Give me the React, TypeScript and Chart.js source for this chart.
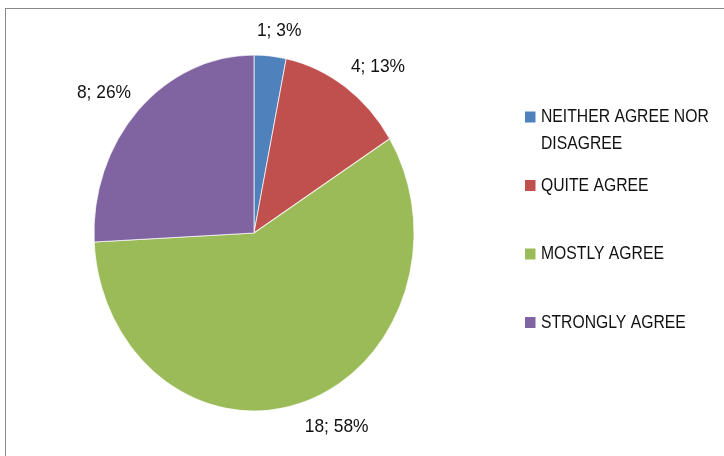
import React, { useEffect, useRef } from "react";
import { Chart, registerables } from "chart.js";

Chart.register(...registerables);

const categories = ["NEITHER AGREE NOR DISAGREE", "QUITE AGREE", "MOSTLY AGREE", "STRONGLY AGREE"];
const counts = [1, 4, 18, 8];
const percentLabels = ["3%", "13%", "58%", "26%"];
const colors = ["#4F81BD", "#C0504D", "#9BBB59", "#8064A2"];

const FONT = '18.5px "Liberation Sans", Arial, sans-serif';
const LEGEND_SX = 0.85;
const LABEL_SX = 0.94;
const Y_STRETCH = 1.1125;

function drawText(ctx: CanvasRenderingContext2D, text: string, x: number, y: number, align: CanvasTextAlign, sx: number) {
  ctx.save();
  ctx.translate(x, y);
  ctx.scale(sx, 1);
  ctx.textAlign = align;
  ctx.fillText(text, 0, 0);
  ctx.restore();
}

const ellipsePlugin = {
  id: "ellipse",
  beforeDatasetsDraw(chart: any) {
    const ctx = chart.ctx;
    const a = chart.getDatasetMeta(0).data[0];
    ctx.save();
    ctx.translate(a.x, a.y);
    ctx.scale(1, Y_STRETCH);
    ctx.translate(-a.x, -a.y);
  },
  afterDatasetsDraw(chart: any) {
    chart.ctx.restore();
  },
};

const labelPlugin = {
  id: "pieLabels",
  afterDatasetsDraw(chart: any) {
    const ctx = chart.ctx;
    const meta = chart.getDatasetMeta(0);
    const values = chart.data.datasets[0].data;
    ctx.save();
    ctx.font = FONT;
    ctx.fillStyle = "#111";
    ctx.textBaseline = "middle";
    meta.data.forEach((arc: any, i: number) => {
      const mid = (arc.startAngle + arc.endAngle) / 2;
      const R = arc.outerRadius;
      const c = Math.cos(mid);
      const s = Math.sin(mid);
      const x = arc.x + c * R * 1.06;
      const y = arc.y + s * R * Y_STRETCH * 1.14;
      const align: CanvasTextAlign = Math.abs(c) < 0.2 ? "center" : c > 0 ? "left" : "right";
      const dx = Math.abs(c) < 0.2 ? 8 : 0;
      drawText(ctx, values[i] + "; " + percentLabels[i], x + dx, y, align, LABEL_SX);
    });
    ctx.restore();
  },
};

const legendPlugin = {
  id: "customLegend",
  afterDraw(chart: any) {
    const ctx = chart.ctx;
    const labels = chart.data.labels as string[];
    const bg = chart.data.datasets[0].backgroundColor as string[];
    const boxX = 525;
    const textX = 541;
    const firstY = 117;
    const step = 68.5;
    const lineH = 26.5;
    const maxW = 178;
    ctx.save();
    ctx.font = FONT;
    ctx.textBaseline = "middle";
    labels.forEach((lab, i) => {
      const y = firstY + i * step;
      ctx.fillStyle = bg[i];
      ctx.fillRect(boxX, y - 5.5, 10.5, 11);
      ctx.fillStyle = "#111";
      const words = lab.split(" ");
      const lines: string[] = [];
      let cur = "";
      words.forEach((w) => {
        const t = cur ? cur + " " + w : w;
        if (ctx.measureText(t).width * LEGEND_SX > maxW && cur) {
          lines.push(cur);
          cur = w;
        } else cur = t;
      });
      if (cur) lines.push(cur);
      lines.forEach((ln, j) => drawText(ctx, ln, textX, y + j * lineH, "left", LEGEND_SX));
    });
    ctx.restore();
  },
};

export default function App() {
  const ref = useRef<HTMLCanvasElement>(null);
  useEffect(() => {
    const chart = new Chart(ref.current!, {
      type: "pie",
      data: {
        labels: categories,
        datasets: [
          {
            data: counts,
            backgroundColor: colors,
            borderColor: "rgba(255,255,255,0.7)",
            borderWidth: 1,
            clip: false as any,
          },
        ],
      },
      options: {
        responsive: false,
        animation: false,
        devicePixelRatio: 1,
        layout: { padding: { left: 93.5, right: 309.5, top: 72.5, bottom: 62.5 } },
        plugins: { legend: { display: false }, tooltip: { enabled: false } },
      },
      plugins: [ellipsePlugin, labelPlugin, legendPlugin],
    });
    return () => chart.destroy();
  }, []);
  return (
    <div style={{ position: "fixed", left: 0, top: 0, width: 724, height: 456, background: "#fff", overflow: "hidden" }}>
      <div
        style={{
          position: "absolute",
          left: 5,
          top: 8,
          width: 800,
          height: 600,
          borderTop: "1px solid #888",
          borderLeft: "1px solid #888",
        }}
      />
      <canvas ref={ref} width={724} height={456} style={{ position: "absolute", left: 0, top: 0 }} />
    </div>
  );
}
